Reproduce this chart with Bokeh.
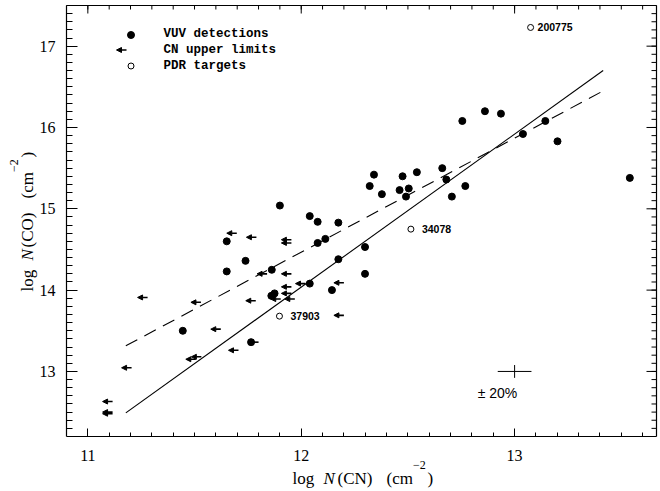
import numpy as np
from bokeh.plotting import figure
from bokeh.models import (ColumnDataSource, Arrow, NormalHead, LinearAxis,
                          FixedTicker, Range1d)
from bokeh.embed import file_html
from bokeh.resources import INLINE
from bokeh.core.properties import value

# ---------------- data ----------------
vuv_logN_CN = [11.445, 11.651, 11.651, 11.739, 11.765, 11.862, 11.860, 11.875,
               11.900, 12.040, 12.077, 12.077, 12.113, 12.174, 12.174, 12.040,
               12.144, 12.299, 12.299, 12.321, 12.341, 12.378, 12.461, 12.475,
               12.491, 12.504, 12.542, 12.661, 12.680, 12.706, 12.755, 12.769,
               12.861, 12.936, 13.039, 13.144, 13.201, 13.540]
vuv_logN_CO = [13.50, 14.23, 14.60, 14.36, 13.36, 14.25, 13.93, 13.96,
               15.04, 14.91, 14.84, 14.58, 14.63, 14.83, 14.38, 14.08,
               14.00, 14.53, 14.20, 15.28, 15.42, 15.18, 15.23, 15.40,
               15.15, 15.25, 15.45, 15.50, 15.36, 15.15, 16.08, 15.28,
               16.20, 16.17, 15.92, 16.08, 15.83, 15.38]

lim_logN_CN = [11.116, 11.116, 11.116, 11.205, 11.280, 11.506, 11.532, 11.530,
               11.623, 11.706, 11.800, 11.698, 11.790, 11.954, 11.954, 11.840,
               11.954, 11.954, 11.954, 11.904, 11.970, 11.787, 12.020, 12.200,
               12.200]
lim_logN_CO = [12.48, 12.50, 12.63, 13.045, 13.91, 13.15, 13.18, 13.85,
               13.52, 13.26, 13.36, 14.70, 14.65, 14.62, 14.58, 14.20,
               14.20, 14.04, 13.96, 13.89, 13.89, 13.87, 14.08, 14.09,
               13.69]

pdr_logN_CN = [11.898, 12.514, 13.075]
pdr_logN_CO = [13.68, 14.75, 17.23]
pdr_names = ["37903", "34078", "200775"]

fit_x = [11.178, 13.415]
fit_solid_y = [12.49, 16.70]
fit_dashed_y = [13.315, 16.45]

err_x = [13.0]
err_y = [13.0]
err_half = [0.079]          # log10(1.2)
err_text = "± 20%"

x_ticks = [11, 12, 13]
y_ticks = [13, 14, 15, 16, 17]
legend_labels = ["VUV detections", "CN upper limits", "PDR targets"]

# ---------------- layout ----------------
W, H = 660, 491
FL, FR, FT, FB = 66, 656, 5, 436      # plot box edges, px
X0, X1 = 10.9, 13.665                 # plot box limits, data
Y0, Y1 = 12.2, 17.5


def dx(px):
    return X0 + (px - FL) / (FR - FL) * (X1 - X0)


def dy(py):
    return Y1 - (py - FT) / (FB - FT) * (Y1 - Y0)


PX = (X1 - X0) / (FR - FL)   # data units per pixel
PY = (Y1 - Y0) / (FB - FT)

p = figure(width=W, height=H,
           x_range=Range1d(dx(0), dx(W)), y_range=Range1d(dy(H), dy(0)),
           output_backend="svg", toolbar_location=None,
           x_axis_location=None, y_axis_location=None, min_border=0)
p.grid.visible = False
p.outline_line_color = None
p.background_fill_color = "white"
p.border_fill_color = "white"

x_minor = [round(v, 1) for v in np.arange(10.9, 13.7, 0.1) if X0 < v < X1]
y_minor = [round(v, 1) for v in np.arange(12.2, 17.55, 0.1) if Y0 < v < Y1]

SERIF = "Liberation Serif"


def make_axis(ticks, minor, loc, bounds, major_in, minor_in, standoff):
    ax = LinearAxis(fixed_location=loc, bounds=bounds)
    ax.ticker = FixedTicker(ticks=ticks, minor_ticks=minor)
    ax.major_tick_in = major_in
    ax.major_tick_out = 0
    ax.minor_tick_in = minor_in
    ax.minor_tick_out = 0
    ax.axis_line_color = "black"
    ax.axis_line_width = 1.2
    ax.major_tick_line_color = "black"
    ax.minor_tick_line_color = "black"
    ax.major_label_text_font = SERIF
    ax.major_label_text_font_size = "16px"
    ax.major_label_text_color = "black"
    ax.major_label_standoff = standoff
    return ax


p.add_layout(make_axis(x_ticks, x_minor, Y0, (X0, X1), 8, 4, 13), "below")
p.add_layout(make_axis(y_ticks, y_minor, X0, (Y0, Y1), 11, 6, 11), "left")

# top and right edges of the box, with inward ticks
p.line([X0, X1], [Y1, Y1], line_color="black", line_width=1.2)
p.line([X1, X1], [Y0, Y1], line_color="black", line_width=1.2)
p.segment(x0=x_ticks, y0=[Y1] * len(x_ticks), x1=x_ticks,
          y1=[Y1 - 8 * PY] * len(x_ticks), line_color="black", line_width=1)
p.segment(x0=x_minor, y0=[Y1] * len(x_minor), x1=x_minor,
          y1=[Y1 - 4 * PY] * len(x_minor), line_color="black", line_width=1)
p.segment(x0=[X1] * len(y_ticks), y0=y_ticks, x1=[X1 - 10 * PX] * len(y_ticks),
          y1=y_ticks, line_color="black", line_width=1)
p.segment(x0=[X1] * len(y_minor), y0=y_minor, x1=[X1 - 5 * PX] * len(y_minor),
          y1=y_minor, line_color="black", line_width=1)

# ---------------- glyphs ----------------
p.line(fit_x, fit_solid_y, line_color="black", line_width=1.1)
p.line(fit_x, fit_dashed_y, line_color="black", line_width=1.1, line_dash="13 8")

p.scatter(vuv_logN_CN, vuv_logN_CO, marker="circle", size=7,
          fill_color="black", line_color="black")

lim_src = ColumnDataSource(dict(x0=lim_logN_CN, y0=lim_logN_CO,
                                x1=[v - 10 * PX for v in lim_logN_CN]))
p.add_layout(Arrow(end=NormalHead(size=5, fill_color="black", line_color="black", line_width=1),
                   x_start="x0", y_start="y0", x_end="x1", y_end="y0",
                   source=lim_src, line_color="black", line_width=1.6))

p.scatter(pdr_logN_CN, pdr_logN_CO, marker="circle", size=6,
          fill_color="white", line_color="black", line_width=1)

name_src = ColumnDataSource(dict(x=pdr_logN_CN, y=pdr_logN_CO, t=pdr_names,
                                 off=[11, 11, 7]))
p.text(x="x", y="y", text="t", x_offset="off", source=name_src,
       text_baseline="middle", text_align="left",
       text_font=value("Liberation Sans"), text_font_style="bold",
       text_font_size="10.5px", text_color="black")

# error cross
p.segment(x0=[x - e for x, e in zip(err_x, err_half)], y0=err_y,
          x1=[x + e for x, e in zip(err_x, err_half)], y1=err_y,
          line_color="black", line_width=1)
p.segment(x0=err_x, y0=[y - e for y, e in zip(err_y, err_half)],
          x1=err_x, y1=[y + e for y, e in zip(err_y, err_half)],
          line_color="black", line_width=1)


def txt(px, py, t, font, size, style="normal", align="left",
        baseline="alphabetic", angle=0.0):
    p.text(x=[dx(px)], y=[dy(py)], text=[t], angle=angle, text_align=align,
           text_baseline=baseline, text_font=value(font),
           text_font_style=style, text_font_size=size, text_color="black")


txt(497, 392, err_text, "Liberation Sans", "14px", align="center", baseline="middle")

# ---------------- legend ----------------
p.scatter([dx(130.5)], [dy(34.5)], marker="circle", size=7, fill_color="black", line_color="black")
leg_src = ColumnDataSource(dict(x0=[dx(126)], y0=[dy(49.5)], x1=[dx(116)]))
p.add_layout(Arrow(end=NormalHead(size=5, fill_color="black", line_color="black", line_width=1),
                   x_start="x0", y_start="y0", x_end="x1", y_end="y0",
                   source=leg_src, line_color="black", line_width=1.6))
p.scatter([dx(130.5)], [dy(65.5)], marker="circle", size=6, fill_color="white",
          line_color="black", line_width=1)
for lab, row in zip(legend_labels, [33.5, 49.5, 65.5]):
    txt(163, row, lab, "Liberation Mono", "12.5px", style="bold", baseline="middle")

# ---------------- axis titles (pieces for italic N / superscript) ----------------
BX = 478          # baseline of x title
SUPX = 464        # baseline of its superscript
txt(292, BX, "log", SERIF, "17px")
txt(323, BX, "N", SERIF, "17px", style="italic")
txt(337, BX, "(CN)", SERIF, "17px")
txt(386, BX, "(cm", SERIF, "17px")
txt(412.5, SUPX, "\u22122", SERIF, "12px")
txt(427, BX, ")", SERIF, "17px")

BY = 27           # baseline of y title (rotated)
SUPY = 13
A = np.pi / 2
txt(BY, 291, "log", SERIF, "17px", angle=A)
txt(BY, 260, "N", SERIF, "17px", style="italic", angle=A)
txt(BY, 247, "(CO)", SERIF, "17px", angle=A)
txt(BY, 198, "(cm", SERIF, "17px", angle=A)
txt(SUPY, 171.5, "\u22122", SERIF, "12px", angle=A)
txt(BY, 157, ")", SERIF, "17px", angle=A)

open("out.html", "w").write(file_html(p, INLINE))
